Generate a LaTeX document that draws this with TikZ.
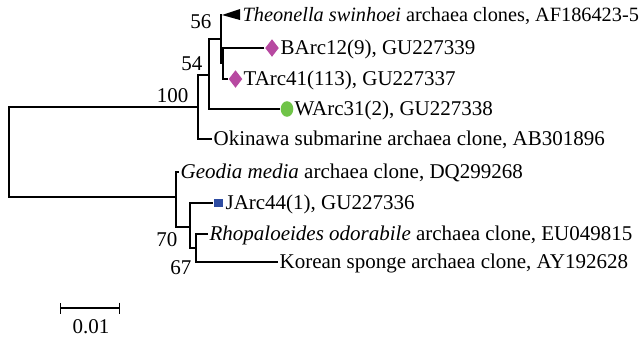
\documentclass[tikz,border=0pt]{standalone}
\usepackage{fontspec}
\setmainfont{Liberation Serif}
\usepackage{xcolor}
\usepackage{tikz}
\usetikzlibrary{shapes.geometric, arrows.meta, positioning, calc}
\definecolor{treemagenta}{RGB}{183, 73, 161}
\definecolor{treegreen}{RGB}{112, 196, 72}
\definecolor{treeblue}{RGB}{46, 76, 162}

\begin{document}
\begin{tikzpicture}[x=0.5pt, y=-0.5pt, line width=0.6pt,
		leaf/.style={anchor=base west, inner sep=0pt, yshift=-3.4pt, font=\fontsize{10.5}{12}\selectfont},
		boot/.style={anchor=base east, inner sep=0pt, font=\fontsize{10.5}{12}\selectfont},
		marker/.style={inner sep=0pt, draw=none}]
			\useasboundingbox (0,0) rectangle (644,339);

			% Define Tree Nodes (x = branch length, y = row)
			\coordinate (root) at (9,152);
			\coordinate (n100) at (198,107);
			\coordinate (n54) at (209,75);
			\coordinate (n56) at (221,39);
			\coordinate (nB) at (223,63);
			\coordinate (nLow) at (176,197);
			\coordinate (n70) at (190,227);
			\coordinate (n67) at (196,248);

			% Leaf Tips without Marker
			\coordinate (tTheo) at (222,15);
			\coordinate (tOki) at (212,139);
			\coordinate (tGeo) at (179,172);
			\coordinate (tRho) at (208,234);
			\coordinate (tKor) at (278,262);

			% Colour Markers
			\node[marker, diamond, fill=treemagenta, minimum width=7pt, minimum height=9pt] (mB) at (272,48) {};
			\node[marker, diamond, fill=treemagenta, minimum width=7pt, minimum height=9pt] (mT) at (235.5,79) {};
			\node[marker, ellipse, fill=treegreen, minimum width=6.3pt, minimum height=7.8pt] (mW) at (287,109) {};
			\node[marker, rectangle, fill=treeblue, minimum width=4.8pt, minimum height=4.3pt] (mJ) at (218.5,203) {};
			\fill (tTheo) -- ++(18,-6) -- ++(0,11) -- cycle;

			% Draw Branches
			\draw (n100) -| (root) |- (nLow);
			\draw (n54) -| (n100) |- (tOki);
			\draw (n56) -| (n54) |- (mW);
			\draw (tTheo) -| (n56) |- (nB);
			\draw (mB) -| (nB) |- (mT);
			\draw (tGeo) -| (nLow) |- (n70);
			\draw (mJ) -| (n70) |- (n67);
			\draw (tRho) -| (n67) |- (tKor);

			% Leaf Labels
			\node[leaf, font=\fontsize{10.15}{12}\selectfont] (lTheo) at (242,15) {\textit{Theonella swinhoei} archaea clones, AF186423-5};
			\node[leaf] (lB) at (280,48) {BArc12(9), GU227339};
			\node[leaf] (lT) at (243,79) {TArc41(113), GU227337};
			\node[leaf] (lW) at (294,109) {WArc31(2), GU227338};
			\node[leaf] (lOki) at (213,139) {Okinawa submarine archaea clone, AB301896};
			\node[leaf] (lGeo) at (180,172) {\textit{Geodia media} archaea clone, DQ299268};
			\node[leaf] (lJ) at (225,203) {JArc44(1), GU227336};
			\node[leaf] (lRho) at (209,234) {\textit{Rhopaloeides odorabile} archaea clone, EU049815};
			\node[leaf] (lKor) at (279,262) {Korean sponge archaea clone, AY192628};

			% Bootstrap Values
			\foreach \val/\px/\py in {100/189/102, 54/203/70, 56/212/28, 70/178/246, 67/192/274}
				\node[boot] (b\val) at (\px,\py) {\val};

			% Scale Bar
			\coordinate (sbL) at (60,308);
			\coordinate (sbR) at (120,308);
			\draw[{Bar[width=5.5pt]}-{Bar[width=5.5pt]}] (sbL) -- (sbR);
			\node[anchor=base, inner sep=0pt, font=\fontsize{10.5}{12}\selectfont] (sbText) at (91,333) {0.01};

		\end{tikzpicture}
\end{document}
